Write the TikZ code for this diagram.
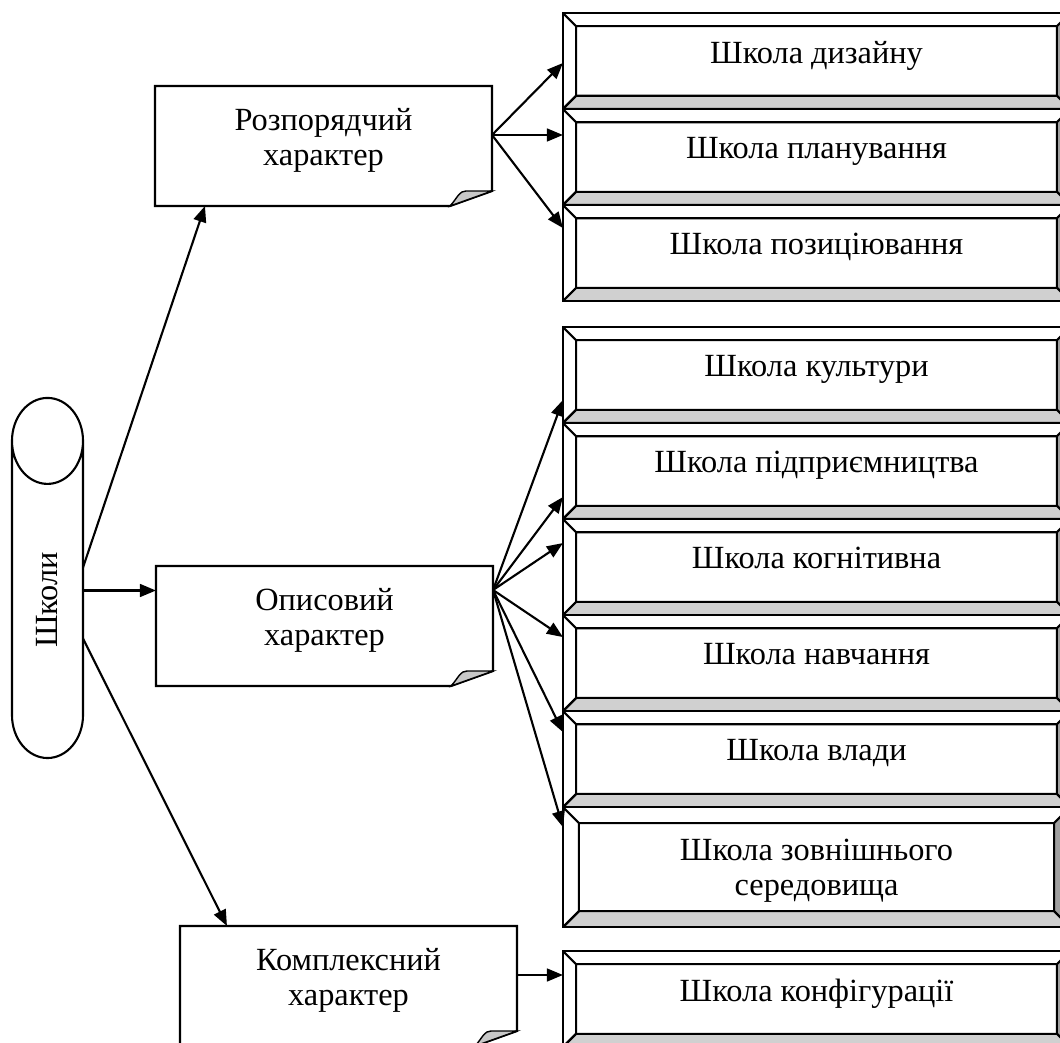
\documentclass[tikz,border=0pt]{standalone}
\usepackage{fontspec}
\setmainfont{Liberation Serif}
\usetikzlibrary{calc, positioning, arrows.meta, shapes.geometric}
\definecolor{bevlight}{RGB}{208,208,208}
\definecolor{bevdark}{RGB}{160,160,160}
\definecolor{foldgrey}{RGB}{200,200,200}
\newcommand{\txtfont}{\fontsize{23}{25}\selectfont}
\newcommand{\notefold}[1]{%
  \draw (#1.north west) -- (#1.north east) -- ($(#1.south east)+(0,-15)$) -- ($(#1.south east)+(-42,0)$) -- (#1.south west) -- cycle;
  \filldraw[fill=foldgrey, line width=1pt, shift={(#1.south east)}] (-42,0) .. controls (-34,-9) and (-33,-15) .. (-26,-15) -- (0,-15) -- cycle;}

\begin{document}
\begin{tikzpicture}[x=0.025cm, y=-0.025cm, >={Triangle[length=0.4cm, width=0.32cm]}, line width=1.5pt,
		node distance=0pt,
		bevel/.style={draw, fill=white, minimum width=12.675cm, minimum height=2.4cm, inner sep=0pt, outer sep=0pt,
			align=center, font=\txtfont, text depth=0.45cm,
			path picture={
				\path (path picture bounding box.north west) coordinate (a1) (path picture bounding box.north east) coordinate (a2)
					(path picture bounding box.south east) coordinate (a3) (path picture bounding box.south west) coordinate (a4);
				\path ($(a1)+(#1,-#1)$) coordinate (b1) ($(a2)+(-#1,-#1)$) coordinate (b2)
					($(a3)+(-#1,#1)$) coordinate (b3) ($(a4)+(#1,#1)$) coordinate (b4);
				\filldraw[fill=bevdark, line width=1.5pt] (a2) -- (a3) -- (b3) -- (b2) -- cycle;
				\filldraw[fill=bevlight, line width=1.5pt] (a3) -- (a4) -- (b4) -- (b3) -- cycle;
				\draw[line width=1.5pt] (a1) -- (b1) -- (b2) (b1) -- (b4) -- (a4);
			}},
		bevel/.default=0.33cm,
		note/.style={minimum width=8.425cm, minimum height=3cm, inner sep=0pt, outer sep=0pt,
			align=center, font=\txtfont, text depth=0.45cm}]
		\clip (0,0) rectangle (1060,1043);

		\node[cylinder, draw, shape border rotate=90, minimum width=1.775cm, minimum height=9cm, aspect=4,
			inner sep=0pt, outer sep=0pt, font=\txtfont] (shk) at (47.5,600) {\rotatebox{90}{Школи}};

		\node[bevel] (dyz) at (816.5,61) {Школа дизайну};
		\node[bevel, below=of dyz] (plan) {Школа планування};
		\node[bevel, below=of plan] (poz) {Школа позиціювання};

		\node[bevel] (kult) at (816.5,375) {Школа культури};
		\node[bevel, below=of kult] (pidpr) {Школа підприємництва};
		\node[bevel, below=of pidpr] (kogn) {Школа когнітивна};
		\node[bevel, below=of kogn] (navch) {Школа навчання};
		\node[bevel, below=of navch] (vlad) {Школа влади};
		\node[bevel=0.4cm, below=of vlad, minimum height=3cm, text depth=0cm] (zovn) {Школа зовнішнього\\середовища};

		\node[bevel] (konf) at (816.5,999) {Школа конфігурації};

		\node[note] (rozp) at (323.5,146) {Розпорядчий\\характер};
		\notefold{rozp}
		\node[note] (opys) at (324.5,626) {Описовий\\характер};
		\notefold{opys}
		\node[note] (kompl) at (348.5,986) {Комплексний\\характер};
		\notefold{kompl}

		\coordinate (s0) at ($(shk.center)+(35.5,-21.5)$);
		\coordinate (s1) at ($(s0)+(0,12)$);
		\draw[->] ($(s0)+(0,-11)$) -- ($(rozp.south west)+(50,0)$);
		\draw[->] (s1) -- (s1 -| opys.west);
		\draw[->] ($(s0)+(0,60)$) -- ($(kompl.north west)+(47,0)$);

		\coordinate (r0) at ($(rozp.east)+(0,-11)$);
		\draw[->] (r0) -- ($(dyz.west)+(0,2)$);
		\draw[->] (r0) -- (r0 -| plan.west);
		\draw[->] (r0) -- ($(poz.west)+(0,-25)$);

		\coordinate (o0) at ($(opys.east)+(0,-36)$);
		\foreach \t/\d in {kult/25, pidpr/26, kogn/-24, navch/-26, vlad/-27, zovn/-40}
			\draw[->] (o0) -- ($(\t.west)+(0,\d)$);

		\coordinate (k0) at ($(kompl.east)+(0,-11)$);
		\draw[->] (k0) -- (k0 -| konf.west);
	\end{tikzpicture}
\end{document}
